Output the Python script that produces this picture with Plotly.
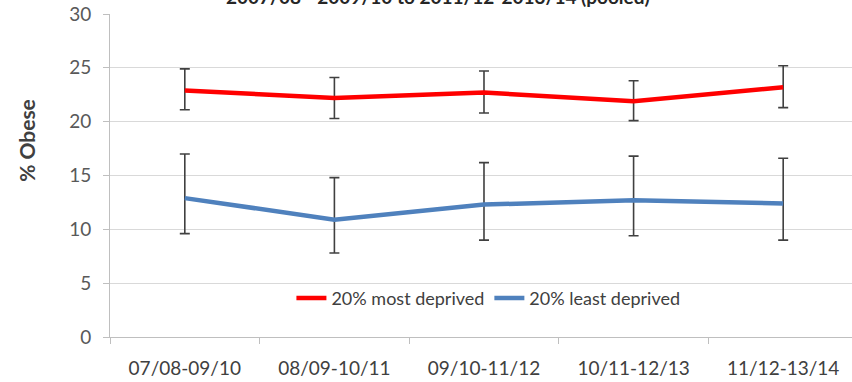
import plotly.graph_objects as go

# Pooled three-year periods
periods = ["07/08-09/10", "08/09-10/11", "09/10-11/12", "10/11-12/13", "11/12-13/14"]

# % obese, 20% most deprived, with 95% CI bounds
most_deprived = [22.9, 22.2, 22.7, 21.9, 23.2]
most_upper = [24.9, 24.1, 24.7, 23.8, 25.2]
most_lower = [21.1, 20.3, 20.8, 20.1, 21.3]

# % obese, 20% least deprived, with 95% CI bounds
least_deprived = [12.9, 10.9, 12.3, 12.7, 12.4]
least_upper = [17.0, 14.8, 16.2, 16.8, 16.6]
least_lower = [9.6, 7.8, 9.0, 9.4, 9.0]

FONT = "Lato"
TEXT_GREY = "#595959"
ERR_COLOR = "#404040"


def err(vals, upper, lower):
    return dict(
        type="data",
        symmetric=False,
        array=[u - v for u, v in zip(upper, vals)],
        arrayminus=[v - l for v, l in zip(vals, lower)],
        color=ERR_COLOR,
        thickness=1.6,
        width=5,
    )


fig = go.Figure()
fig.add_trace(go.Scatter(
    x=periods, y=most_deprived, mode="lines", name="20% most deprived",
    line=dict(color="#FF0000", width=4.5),
    error_y=err(most_deprived, most_upper, most_lower),
))
fig.add_trace(go.Scatter(
    x=periods, y=least_deprived, mode="lines", name="20% least deprived",
    line=dict(color="#4F81BD", width=4.5),
    error_y=err(least_deprived, least_upper, least_lower),
))

fig.update_layout(
    width=852, height=382,
    margin=dict(l=110, r=0, t=14, b=45),
    paper_bgcolor="white", plot_bgcolor="white",
    font=dict(family=FONT, size=19, color=TEXT_GREY),
    showlegend=True,
    legend=dict(
        orientation="h", x=0.51, xanchor="center", y=0.12, yanchor="middle",
        font=dict(family=FONT, size=18, color="#404040"),
        bgcolor="rgba(0,0,0,0)", itemwidth=30,
        traceorder="normal",
    ),
    xaxis=dict(
        type="category", range=[-0.5, 4.46],
        showgrid=False, showline=True, linecolor="#BFBFBF", linewidth=1,
        ticks="outside", tickson="boundaries", ticklen=6, tickcolor="#BFBFBF",
        tickfont=dict(family=FONT, size=19, color="#404040"),
        ticklabelstandoff=14,
    ),
    yaxis=dict(
        range=[0, 30], tickvals=[0, 5, 10, 15, 20, 25, 30],
        showgrid=True, gridcolor="#D9D9D9", gridwidth=1,
        showline=True, linecolor="#BFBFBF", linewidth=1,
        ticks="outside", ticklen=6, tickcolor="#BFBFBF",
        tickfont=dict(family=FONT, size=19, color=TEXT_GREY),
        ticklabelstandoff=8, zeroline=False,
    ),
    annotations=[
        dict(
            text="<b>2007/08 - 2009/10 to 2011/12-2013/14 (pooled)</b>",
            xref="paper", yref="paper", x=0.442, y=1.053,
            xanchor="center", yanchor="middle", showarrow=False,
            font=dict(family=FONT, size=19, color="#262626"),
        ),
        dict(
            text="<b>% Obese</b>",
            xref="paper", yref="paper", x=-0.112, y=0.61,
            xanchor="center", yanchor="middle", showarrow=False,
            textangle=-90,
            font=dict(family=FONT, size=21, color="#404040"),
        ),
    ],
)

fig.write_html("out.html")
